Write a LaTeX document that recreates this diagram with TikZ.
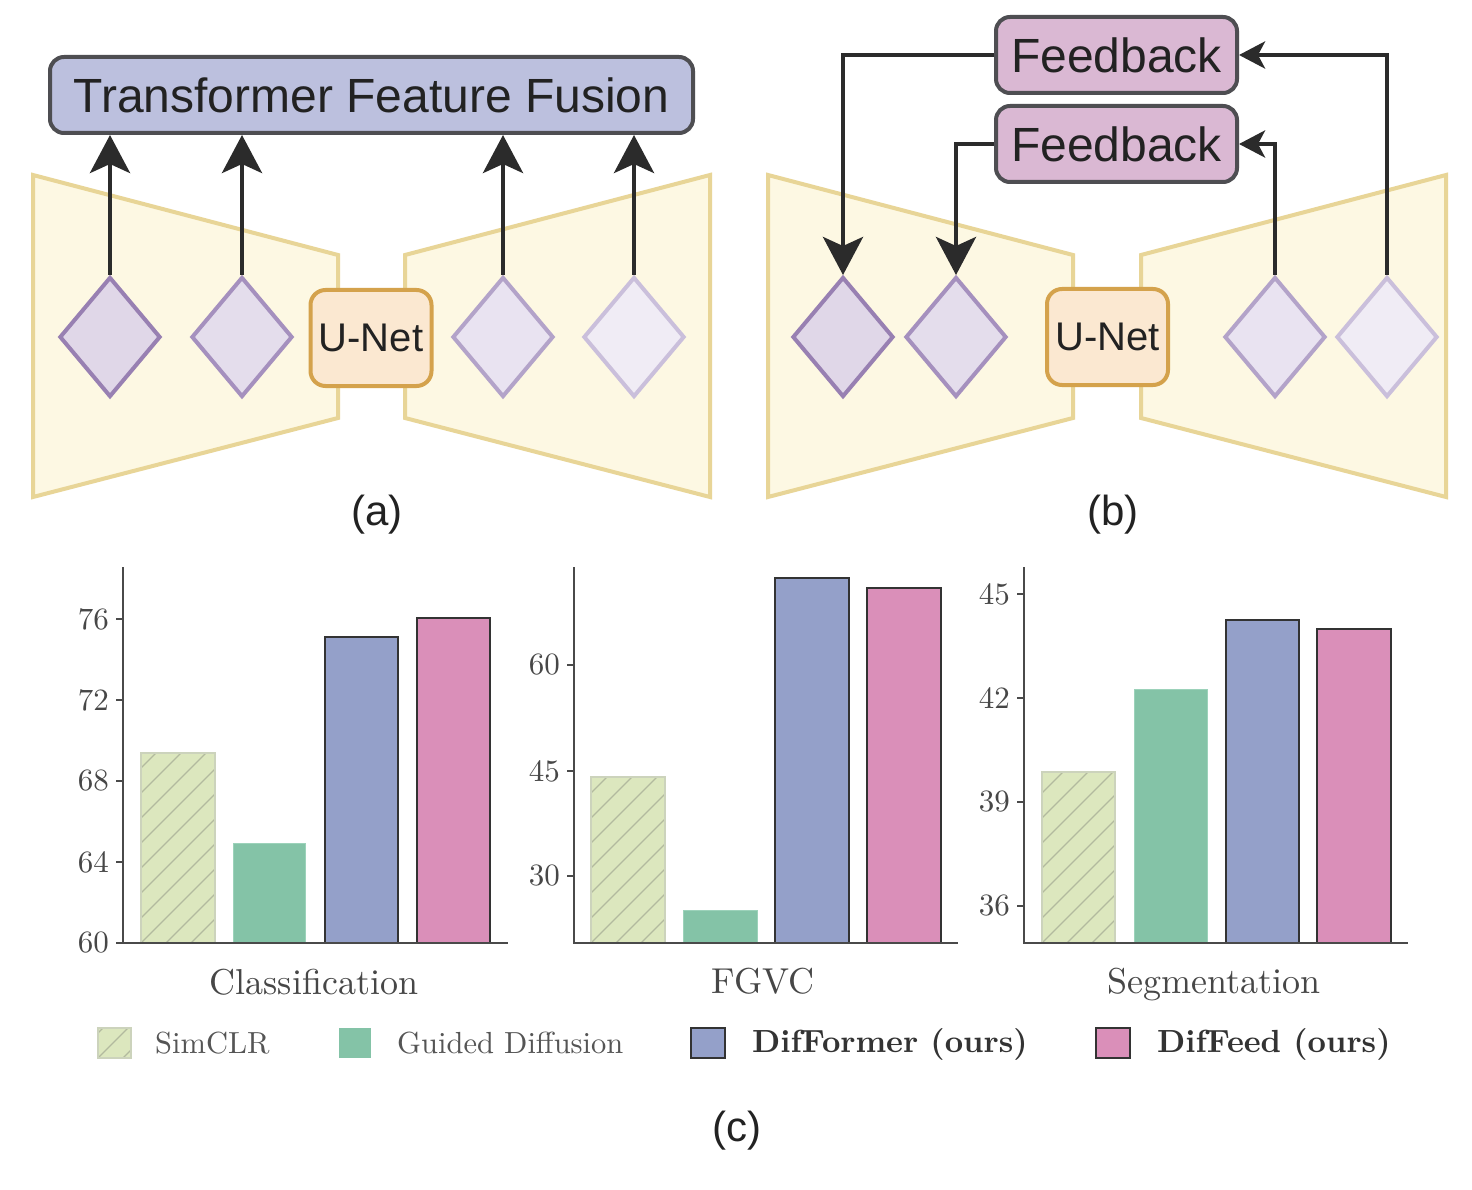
\documentclass[tikz,border=0pt]{standalone}
\usepackage{fontspec}
\newfontfamily\arialf{Liberation Sans}
\newfontfamily\lmten{lmroman10-regular.otf}[BoldFont=lmroman10-bold.otf]
\usetikzlibrary{shapes.geometric,arrows.meta}
\definecolor{trapfill}{HTML}{FDF8E3}
\definecolor{trapdraw}{HTML}{E8D597}
\definecolor{tffill}{HTML}{BCC0DE}
\definecolor{fbfill}{HTML}{DAB8D3}
\definecolor{boxdraw}{HTML}{4E4E52}
\definecolor{unetfill}{HTML}{FBE8D1}
\definecolor{unetdraw}{HTML}{D4A24C}
\definecolor{arrowc}{HTML}{2B2B2B}
\definecolor{textdark}{HTML}{222222}
\definecolor{dAf}{HTML}{E0D7E8}\definecolor{dAd}{HTML}{9880B2}
\definecolor{dBf}{HTML}{E4DDEC}\definecolor{dBd}{HTML}{A590BE}
\definecolor{dCf}{HTML}{E9E3F1}\definecolor{dCd}{HTML}{B3A3C9}
\definecolor{dDf}{HTML}{F0ECF5}\definecolor{dDd}{HTML}{CABFDB}
\definecolor{simfill}{HTML}{DCE7BE}
\definecolor{simhatch}{HTML}{B2BA9E}
\definecolor{simdraw}{HTML}{CCD3BC}
\definecolor{gdfill}{HTML}{84C3A7}
\definecolor{gddraw}{HTML}{9CD2BA}
\definecolor{dfmfill}{HTML}{94A0C9}
\definecolor{dfdfill}{HTML}{DA8FB9}
\definecolor{bardraw}{HTML}{333333}
\definecolor{axisc}{HTML}{4A4A4A}
\definecolor{ticktext}{HTML}{474747}
\definecolor{legtext}{HTML}{555555}
\newcommand\myhatchbar[4]{%
  \fill[simfill] (#1,#2) rectangle (#3,#4);
  \begin{scope}
    \clip (#1,#2) rectangle (#3,#4);
    \foreach \k in {0,...,14} {\draw[simhatch, line width=1.3pt] (#1-250+25*\k,#4) -- ++(320,-320);}
  \end{scope}
  \draw[simdraw, line width=1.2pt] (#1,#2) rectangle (#3,#4);
}
\begin{document}
\begin{tikzpicture}[x=1pt,y=-1pt,
  trap/.style={fill=trapfill, draw=trapdraw, line width=4pt, line join=miter},
  diam/.style={diamond, minimum width=101pt, minimum height=120pt, inner sep=0pt, line width=4pt},
  topbox/.style={rounded corners=14pt, line width=4pt, draw=boxdraw, inner sep=0pt, minimum height=76pt, font=\arialf\fontsize{48}{56}\selectfont, text=textdark},
  unet/.style={rounded corners=15pt, line width=4pt, draw=unetdraw, fill=unetfill, minimum width=121pt, minimum height=96pt, inner sep=0pt, font=\arialf\fontsize{40}{48}\selectfont, text=textdark},
  bigarrow/.style={line width=4.5pt, draw=arrowc, -{Stealth[length=38pt,width=40pt,inset=9pt]}},
  smallarrow/.style={line width=4.5pt, draw=arrowc, -{Stealth[length=26pt,width=27pt,inset=7pt]}},
  sublabel/.style={font=\arialf\fontsize{42}{50}\selectfont, text=textdark},
  ticklab/.style={anchor=east, inner sep=0pt, font=\lmten\fontsize{31}{36}\selectfont, text=ticktext},
  catlab/.style={anchor=base, inner sep=0pt, font=\lmten\fontsize{36}{42}\selectfont, text=ticktext},
  leglab/.style={anchor=west, inner sep=0pt, font=\lmten\fontsize{30.5}{36}\selectfont, text=legtext},
  legbold/.style={anchor=west, inner sep=0pt, font=\lmten\bfseries\fontsize{32}{38}\selectfont, text=bardraw},
  axis/.style={draw=axisc, line width=2pt},
  barline/.style={draw=bardraw, line width=2.5pt}
]
\useasboundingbox (0,0) rectangle (1472,1190);
\fill[white] (0,0) rectangle (1472,1190);

% ---------------- (a) ----------------
\draw[trap] (33,175) -- (338,255) -- (338,418) -- (33,497) -- cycle;
\draw[trap] (405,255) -- (710,175) -- (710,497) -- (405,418) -- cycle;
\node[topbox, fill=tffill, minimum width=643pt] (tff) at (371.5,95) {Transformer Feature Fusion};
\node[unet] (unetA) at (371,338) {U-Net};
\node[diam, fill=dAf, draw=dAd] (a1) at (110,337) {};
\node[diam, fill=dBf, draw=dBd] (a2) at (242,337) {};
\node[diam, fill=dCf, draw=dCd] (a3) at (503,337) {};
\node[diam, fill=dDf, draw=dDd] (a4) at (634,337) {};
\foreach \n in {a1,a2,a3,a4} {\draw[bigarrow] (\n.north) -- (\n.north |- tff.south);}
\node[sublabel] (labA) at (377,515) {(a)};

% ---------------- (b) ----------------
\draw[trap] (768,175) -- (1073,255) -- (1073,418) -- (768,497) -- cycle;
\draw[trap] (1141,255) -- (1446,175) -- (1446,497) -- (1141,418) -- cycle;
\node[topbox, fill=fbfill, minimum width=241pt] (fb1) at (1116.5,55) {Feedback};
\node[topbox, fill=fbfill, minimum width=241pt] (fb2) at (1116.5,144) {Feedback};
\node[unet] (unetB) at (1107.5,337) {U-Net};
\node[diam, fill=dAf, draw=dAd] (b1) at (843,337) {};
\node[diam, fill=dBf, draw=dBd] (b2) at (956,337) {};
\node[diam, fill=dCf, draw=dCd] (b3) at (1275,337) {};
\node[diam, fill=dDf, draw=dDd] (b4) at (1387,337) {};
\draw[bigarrow] (fb1.west) -| (b1.north);
\draw[bigarrow] (fb2.west) -| (b2.north);
\draw[smallarrow] (b3.north) |- (fb2.east);
\draw[smallarrow] (b4.north) |- (fb1.east);
\node[sublabel] (labB) at (1113,515) {(b)};

% ---------------- chart 1: Classification ----------------
\myhatchbar{141}{753}{215}{943}
\draw[draw=gddraw, line width=1pt, fill=gdfill] (233,843) rectangle (305,943);
\draw[barline, fill=dfmfill] (325,637) rectangle (398,943);
\draw[barline, fill=dfdfill] (417,618) rectangle (490,943);
\draw[axis] (123,567) -- (123,943) -- (508,943);
\foreach \v/\y in {60/943,64/862,68/781,72/700,76/619} {
  \draw[axis] (116,\y) -- (123,\y);
  \node[ticklab] at (109,\y) {\v};
}
\node[catlab] (catA) at (314,994) {Classification};

% ---------------- chart 2: FGVC ----------------
\myhatchbar{591}{777}{665}{943}
\draw[draw=gddraw, line width=1pt, fill=gdfill] (683,910) rectangle (757,943);
\draw[barline, fill=dfmfill] (775,578) rectangle (849,943);
\draw[barline, fill=dfdfill] (867,588) rectangle (941,943);
\draw[axis] (574,567) -- (574,943) -- (958,943);
\foreach \v/\y in {30/876,45/771,60/665} {
  \draw[axis] (567,\y) -- (574,\y);
  \node[ticklab] at (560,\y) {\v};
}
\node[catlab] (catB) at (763,993) {FGVC};

% ---------------- chart 3: Segmentation ----------------
\myhatchbar{1042}{772}{1115}{943}
\draw[draw=gddraw, line width=1pt, fill=gdfill] (1134,689) rectangle (1207,943);
\draw[barline, fill=dfmfill] (1226,620) rectangle (1299,943);
\draw[barline, fill=dfdfill] (1317,629) rectangle (1391,943);
\draw[axis] (1024,567) -- (1024,943) -- (1408,943);
\foreach \v/\y in {36/906,39/802,42/698,45/594} {
  \draw[axis] (1017,\y) -- (1024,\y);
  \node[ticklab] at (1010,\y) {\v};
}
\node[catlab] (catC) at (1214,993) {Segmentation};

% ---------------- legend ----------------
\myhatchbar{98}{1028}{131}{1058}
\node[leglab] (lg1) at (155,1043) {SimCLR};
\fill[gdfill] (339,1028) rectangle (371,1058);
\node[leglab] (lg2) at (397,1043) {Guided Diffusion};
\draw[draw=bardraw, line width=2pt, fill=dfmfill] (691,1028) rectangle (725,1058);
\node[legbold] (lg3) at (752,1044) {DifFormer (ours)};
\draw[draw=bardraw, line width=2pt, fill=dfdfill] (1096,1028) rectangle (1130,1058);
\node[legbold] (lg4) at (1157,1044) {DifFeed (ours)};

\node[sublabel] (labC) at (737,1131) {(c)};
\end{tikzpicture}
\end{document}
